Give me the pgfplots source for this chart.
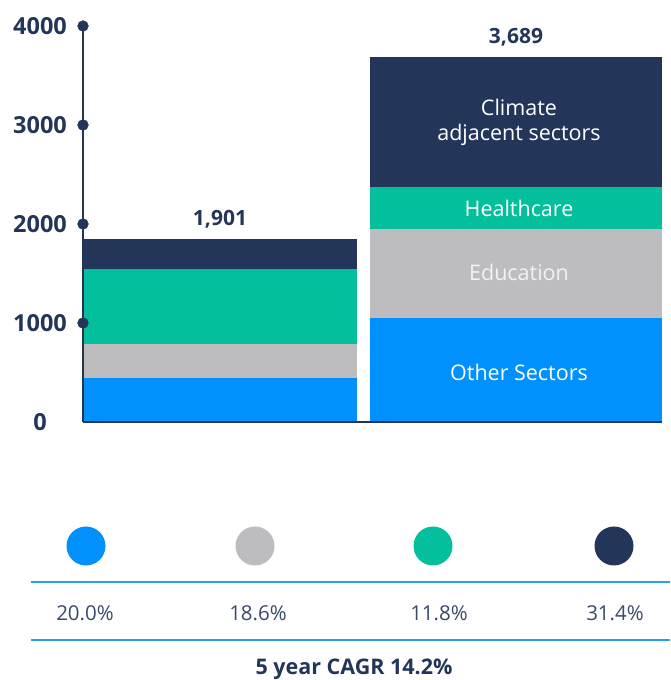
\documentclass[border=0pt]{standalone}
\usepackage{pgfplots}
\pgfplotsset{compat=1.18}
\usepackage{fontspec}
\setmainfont{Open Sans}

\definecolor{navy}{HTML}{23365A}
\definecolor{cgreen}{HTML}{03BF9B}
\definecolor{cgrey}{HTML}{BDBDBF}
\definecolor{cblue}{HTML}{0091FF}
\definecolor{lineblue}{HTML}{2A9DF4}
\definecolor{pctgrey}{HTML}{3A4A6B}
\definecolor{edutext}{HTML}{F2F2F4}

% shared geometry: 1pt = 1px of the reference
\pgfplotsset{frame/.style={at={(83pt,258pt)}, anchor=south west,
  scale only axis, width=579pt, height=396pt,
  xmin=0, xmax=579, ymin=0, ymax=4000}}
\tikzset{inlbl/.style={font=\fontsize{21.5}{25}\selectfont, text=white, align=center}}

\begin{document}
\begin{tikzpicture}
\useasboundingbox (0,0) rectangle (670pt,680pt);

% left bar
\begin{axis}[frame, hide axis, ybar stacked, bar width=274, clip=false]
  \addplot[fill=cblue, draw=none] coordinates {(137,444)};
  \addplot[fill=cgrey, draw=none] coordinates {(137,344)};
  \addplot[fill=cgreen, draw=none] coordinates {(137,757)};
  \addplot[fill=navy, draw=none] coordinates {(137,303)};
\end{axis}

% right bar
\begin{axis}[frame, hide axis, ybar stacked, bar width=292, clip=false]
  \addplot[fill=cblue, draw=none] coordinates {(433,1050)};
  \addplot[fill=cgrey, draw=none] coordinates {(433,899)};
  \addplot[fill=cgreen, draw=none] coordinates {(433,425)};
  \addplot[fill=navy, draw=none] coordinates {(433,1313)};
\end{axis}

% axis lines, ticks, dots and labels on top
\begin{axis}[frame, axis lines*=left, clip=false,
  every outer x axis line/.append style={draw=navy, line width=2.2pt},
  every outer y axis line/.append style={draw=navy, line width=2.2pt},
  xtick=\empty, ytick={0,1000,2000,3000,4000},
  major tick length=0pt, scaled y ticks=false,
  /pgf/number format/1000 sep={},
  /pgf/number format/assume math mode=true,
  yticklabel style={anchor=center, xshift=-43pt,
    font=\fontsize{23.5}{27}\selectfont\bfseries, text=navy}]
  \addplot[only marks, mark=*, mark size=5.4pt, navy]
    coordinates {(0,1000)(0,2000)(0,3000)(0,4000)};
  \node[font=\fontsize{21}{25}\selectfont\bfseries, text=navy] at (axis cs:137,2050) {1,901};
  \node[font=\fontsize{21}{25}\selectfont\bfseries, text=navy] at (axis cs:433,3889) {3,689};
  \node[inlbl] at (axis cs:436,3030) {Climate\\adjacent sectors};
  \node[inlbl] at (axis cs:436,2162) {Healthcare};
  \node[inlbl, text=edutext] at (axis cs:436,1515) {Education};
  \node[inlbl] at (axis cs:436,505) {Other Sectors};
\end{axis}

% CAGR legend below
\fill[cblue]  (86pt,134pt) circle (19.5pt);
\fill[cgrey]  (255pt,134pt) circle (19.5pt);
\fill[cgreen] (433pt,134pt) circle (19.5pt);
\fill[navy]   (614pt,134pt) circle (19.5pt);
\draw[lineblue, line width=1.3pt] (31pt,98pt) -- (670pt,98pt);
\draw[lineblue, line width=1.3pt] (31pt,40pt) -- (670pt,40pt);
\node[font=\fontsize{20.5}{24}\selectfont, text=pctgrey] at (85pt,67pt) {20.0\%};
\node[font=\fontsize{20.5}{24}\selectfont, text=pctgrey] at (258pt,67pt) {18.6\%};
\node[font=\fontsize{20.5}{24}\selectfont, text=pctgrey] at (439pt,67pt) {11.8\%};
\node[font=\fontsize{20.5}{24}\selectfont, text=pctgrey] at (615pt,67pt) {31.4\%};
\node[font=\fontsize{21.5}{25}\selectfont\bfseries, text=navy] at (354pt,11pt) {5 year CAGR 14.2\%};
\end{tikzpicture}
\end{document}
